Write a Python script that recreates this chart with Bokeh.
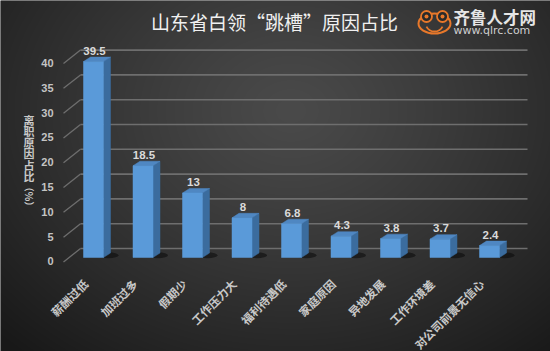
import numpy as np
from bokeh.plotting import figure
from bokeh.models import Range1d, ColumnDataSource, Label
from bokeh.core.properties import value
from bokeh.embed import file_html
from bokeh.resources import INLINE

# ---- data ----
categories = ["薪酬过低", "加班过多", "假期少", "工作压力大", "福利待遇低",
              "家庭原因", "异地发展", "工作环境差", "对公司前景无信心"]
values = [39.5, 18.5, 13, 8, 6.8, 4.3, 3.8, 3.7, 2.4]
value_labels = ["39.5", "18.5", "13", "8", "6.8", "4.3", "3.8", "3.7", "2.4"]
y_ticks = [0, 5, 10, 15, 20, 25, 30, 35, 40]
title_text = "山东省白领“跳槽”原因占比"
ylabel_chars = ["离", "职", "原", "因", "占", "比"]
ylabel_unit = "（%）"

# ---- layout (pixel geometry of the canvas) ----
W, H = 550, 351
X0_PX, STEP_PX = 93.0, 49.5       # centre of first bar, spacing between bars
BASE_PX, UNIT_PX = 257.0, 4.96    # pixel row of value 0 (front), pixels per unit

def X(px):
    return (px - X0_PX) / STEP_PX

def Y(py):
    return (BASE_PX - py) / UNIT_PX

HW = 10 / STEP_PX          # half width of a bar front
DX = 7 / STEP_PX           # depth offset x
DY = 4.5 / UNIT_PX         # depth offset y
GRID_DY = 9 / UNIT_PX      # back wall offset

p = figure(width=W, height=H, output_backend="svg", toolbar_location=None,
           x_range=Range1d(X(0), X(W)), y_range=Range1d(Y(H), Y(0)),
           x_axis_type=None, y_axis_type=None, min_border=0,
           border_fill_color="#333333", background_fill_color="#333333")
p.outline_line_color = None
p.grid.visible = False

# ---- background gradient ----
yy, xx = np.mgrid[0:H, 0:W]
pyy = H - 1 - yy
d = np.sqrt(((xx - 290) / 330.0) ** 2 + ((pyy - 110) / 260.0) ** 2)
d = np.clip(d, 0, 1.25) / 1.25
g = (74 - (74 - 24) * d ** 1.2).astype(np.uint32)
img = (255 << 24) | (g << 16) | (g << 8) | g
p.image_rgba(image=[img.astype(np.uint32)], x=X(0), y=Y(H), dw=X(W) - X(0), dh=Y(0) - Y(H))

# ---- back wall gridlines and diagonal connectors ----
gx0, gx1 = X(80), X(527)
p.multi_line(xs=[[gx0, gx1] for _ in y_ticks],
             ys=[[t + GRID_DY, t + GRID_DY] for t in y_ticks],
             line_color="#6e6e6e", line_width=1.6)
p.multi_line(xs=[[X(63), gx0] for _ in y_ticks],
             ys=[[t - 0.9, t + GRID_DY] for t in y_ticks],
             line_color="#6e6e6e", line_width=1.3)
p.text(x=[X(53)] * len(y_ticks), y=[t - 0.8 for t in y_ticks],
       text=[str(t) for t in y_ticks], text_align="right", text_baseline="middle",
       text_font=value("Liberation Sans"), text_font_style="bold",
       text_font_size="11px", text_color="#c4c4c4")

# y axis label (vertical, one character per row)
for i, ch in enumerate(ylabel_chars):
    p.add_layout(Label(x=X(28.5), y=Y(119 + 11.3 * i), text=ch, angle=0,
                       text_align="center", text_baseline="middle",
                       text_font="Noto Sans CJK SC", text_font_style="bold",
                       text_font_size="11px", text_color="#c8c8c8"))
p.add_layout(Label(x=X(28.5), y=Y(196), text=ylabel_unit, angle=-np.pi / 2,
                   text_align="center", text_baseline="middle",
                   text_font="Noto Sans CJK SC", text_font_style="bold",
                   text_font_size="10px", text_color="#c8c8c8"))

# ---- bars (3D) ----
xs = list(range(len(values)))
left = [x - HW for x in xs]
right = [x + HW for x in xs]
src = ColumnDataSource(dict(x=xs, left=left, right=right, top=values,
                            bottom=[0] * len(values), lab=value_labels, cat=categories))

# floor shadows
p.ellipse(x=[r + 5 / STEP_PX for r in right], y=[DY * 0.5] * len(values),
          width=20 / STEP_PX, height=6 / UNIT_PX, fill_color="#0a0a0a",
          fill_alpha=0.55, line_color=None)

side_xs = [[r, r + DX, r + DX, r] for r in right]
side_ys = [[0, DY, v + DY, v] for v in values]
p.patches(xs=side_xs, ys=side_ys, fill_color="#3b6c9e", line_color="#3b6c9e", line_width=0.5)
top_xs = [[l, r, r + DX, l + DX] for l, r in zip(left, right)]
top_ys = [[v, v, v + DY, v + DY] for v in values]
p.patches(xs=top_xs, ys=top_ys, fill_color="#4f87c2", line_color="#4f87c2", line_width=0.5)
p.quad(left="left", right="right", bottom="bottom", top="top", source=src,
       fill_color="#5a9ad9", line_color="#5a9ad9", line_width=0.5)

# value labels
p.text(x=[x + 1 / STEP_PX for x in xs], y=[v + DY + 0.5 for v in values], text=value_labels,
       text_align="center", text_baseline="bottom",
       text_font=value("Liberation Sans"), text_font_style="bold",
       text_font_size="11.5px", text_color="#dadada")

# category labels
p.text(x=[x - 8 / STEP_PX for x in xs], y=[Y(281)] * len(xs), text=categories,
       angle=np.pi / 4, text_align="right", text_baseline="middle",
       text_font=value("Noto Sans CJK SC"), text_font_style="bold",
       text_font_size="11.5px", text_color="#c8c8c8")

# ---- title ----
p.text(x=[X(274)], y=[Y(21)], text=[title_text], text_align="center",
       text_baseline="middle", text_font=value("Noto Sans CJK SC"),
       text_font_size="19px", text_color="#f0f0f0")

# ---- logo ----
orange = "#e8782a"
p.ellipse(x=[X(434)], y=[Y(23)], width=32 / STEP_PX, height=20 / UNIT_PX,
          fill_color=None, line_color=orange, line_width=2)
p.circle(x=[X(426), X(442)], y=[Y(16), Y(16)], radius=5.5 / STEP_PX,
         fill_color="#2a2a2a", line_color=orange, line_width=1.8)
p.circle(x=[X(426), X(442)], y=[Y(16), Y(16)], radius=2 / STEP_PX,
         fill_color=orange, line_color=None)
p.arc(x=[X(434)], y=[Y(22)], radius=9 / STEP_PX, start_angle=np.pi * 1.15,
      end_angle=np.pi * 1.85, line_color=orange, line_width=1.8)
p.text(x=[X(453)], y=[Y(16)], text=["齐鲁人才网"], text_align="left",
       text_baseline="middle", text_font=value("Noto Sans CJK SC"),
       text_font_style="bold", text_font_size="16.5px", text_color="#e6e6e6")
p.text(x=[X(453)], y=[Y(30)], text=["www.qlrc.com"], text_align="left",
       text_baseline="middle", text_font=value("DejaVu Sans"),
       text_font_size="11px", text_color="#cfcfcf")

open("out.html", "w").write(file_html(p, INLINE))
